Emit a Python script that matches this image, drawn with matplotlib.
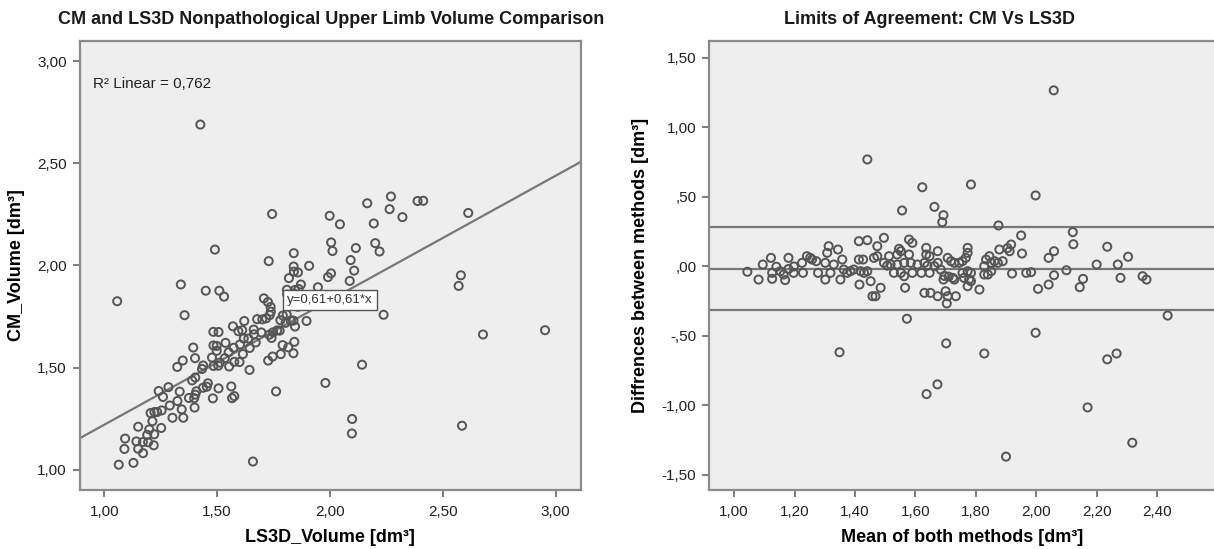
import numpy as np
import matplotlib.pyplot as plt
from matplotlib.ticker import FuncFormatter, MultipleLocator

plt.rcParams['font.family'] = ['Liberation Sans', 'DejaVu Sans']

# Bland-Altman readings: mean of both methods and difference CM - LS3D [dm3]
mean_both = np.array([
    1.044, 1.081, 1.095, 1.122, 1.126, 1.126, 1.140, 1.153, 1.164, 1.169,
    1.180, 1.180, 1.197, 1.198, 1.225, 1.228, 1.241, 1.252, 1.258, 1.272,
    1.278, 1.302, 1.302, 1.313, 1.308, 1.319, 1.330, 1.344, 1.352, 1.358,
    1.363, 1.374, 1.385, 1.396, 1.349, 1.413, 1.441, 1.413, 1.427, 1.419,
    1.430, 1.441, 1.415, 1.452, 1.458, 1.468, 1.463, 1.474, 1.474, 1.485,
    1.496, 1.496, 1.507, 1.518, 1.513, 1.529, 1.540, 1.552, 1.540, 1.552,
    1.563, 1.563, 1.566, 1.572, 1.579, 1.590, 1.579, 1.585, 1.590, 1.607,
    1.620, 1.630, 1.636, 1.647, 1.630, 1.650, 1.640, 1.647, 1.663, 1.674,
    1.684, 1.674, 1.693, 1.702, 1.704, 1.707, 1.718, 1.729, 1.745, 1.756,
    1.767, 1.773, 1.773, 1.696, 1.710, 1.724, 1.729, 1.707, 1.734, 1.700,
    1.756, 1.761, 1.773, 1.784, 1.778, 1.784, 1.773, 1.812, 1.828, 1.834,
    1.845, 1.851, 1.862, 1.873, 1.889, 1.828, 1.840, 1.851, 1.878, 1.912,
    1.917, 1.950, 1.953, 1.920, 1.967, 1.983, 2.041, 2.059, 2.006, 2.041,
    2.059, 1.998, 2.100, 2.121, 2.123, 2.155, 2.144, 2.200, 2.235, 2.270,
    2.279, 2.304, 2.352, 2.365, 2.435, 1.828, 2.235, 2.266, 2.058, 1.784,
    1.998, 1.693, 1.689, 1.875, 1.441, 1.623, 1.556, 1.663, 1.546, 1.636,
    1.674, 1.905, 1.637, 1.673, 1.900, 2.170, 2.318,
])
diff_cm_ls3d = np.array([
    -0.040, -0.096, 0.012, 0.060, -0.048, -0.091, -0.004, -0.036, -0.060, -0.100,
    0.060, -0.020, -0.048, -0.002, 0.024, -0.048, 0.072, 0.060, 0.048, 0.036,
    -0.048, 0.024, -0.096, 0.144, 0.096, -0.048, 0.012, 0.120, -0.096, 0.048,
    -0.024, -0.048, -0.036, -0.024, -0.619, 0.180, 0.187, 0.048, 0.048, -0.036,
    -0.048, -0.036, -0.132, -0.108, -0.216, -0.216, 0.060, 0.072, 0.144, -0.155,
    0.204, 0.024, 0.004, 0.012, 0.072, -0.048, 0.012, -0.048, 0.084, 0.108,
    0.024, -0.072, -0.155, -0.378, 0.192, 0.168, 0.084, 0.024, -0.048, 0.012,
    -0.048, 0.024, 0.084, 0.072, -0.192, -0.192, 0.004, -0.048, 0.000, 0.024,
    -0.024, -0.216, -0.096, -0.555, -0.268, 0.060, 0.036, 0.024, 0.024, 0.036,
    0.060, 0.096, 0.132, -0.070, -0.075, -0.084, -0.096, -0.216, -0.216, -0.180,
    -0.048, -0.084, -0.036, -0.048, -0.096, -0.108, -0.144, -0.168, 0.000, 0.048,
    0.072, 0.024, 0.036, 0.024, 0.036, -0.060, -0.060, -0.036, 0.120, 0.108,
    0.156, 0.221, 0.091, -0.053, -0.048, -0.043, 0.060, 0.108, -0.163, -0.132,
    -0.065, -0.479, -0.029, 0.245, 0.158, -0.091, -0.151, 0.012, 0.140, 0.012,
    -0.084, 0.068, -0.072, -0.096, -0.355, -0.628, -0.670, -0.628, 1.265, 0.588,
    0.509, 0.367, 0.317, 0.293, 0.768, 0.568, 0.401, 0.427, 0.125, 0.132,
    0.108, 0.130, -0.920, -0.850, -1.370, -1.016, -1.270,
])

# the scatter pairs follow from mean and difference
ls3d_volume = mean_both - diff_cm_ls3d / 2
cm_volume = mean_both + diff_cm_ls3d / 2

fit_intercept = 0.61
fit_slope = 0.61
r2_text = 'R² Linear = 0,762'
fit_text = 'y=0,61+0,61*x'

bias = -0.02
upper_loa = 0.28
lower_loa = -0.315


def spss_fmt(v, pos):
    if abs(v) < 1e-9:
        v = 0.0
    s = f'{v:.2f}'.replace('.', ',')
    if s.startswith('0,'):
        s = s[1:]
    elif s.startswith('-0,'):
        s = '-' + s[2:]
    return s


W, H = 1214, 549
fig = plt.figure(figsize=(W / 100, H / 100), dpi=100)
ax1 = fig.add_axes([79.5 / W, 59 / H, 501 / W, 449 / H])
ax2 = fig.add_axes([709 / W, 59 / H, 507 / W, 449 / H])

for ax in (ax1, ax2):
    ax.set_facecolor('#eeeeee')
    for sp in ax.spines.values():
        sp.set_color('#8a8a8a')
        sp.set_linewidth(1.6)
    ax.tick_params(direction='out', length=5, width=1.2, color='#666666',
                   labelsize=11, labelcolor='#222222', pad=4)
    ax.tick_params(axis='x', pad=6)
    ax.xaxis.set_major_formatter(FuncFormatter(spss_fmt))
    ax.yaxis.set_major_formatter(FuncFormatter(spss_fmt))

mk = dict(s=34, facecolors='none', edgecolors='#555555', linewidths=1.4, zorder=3)

# left: scatter with linear fit
ax1.scatter(ls3d_volume, cm_volume, **mk)
ax1.set_xlim(0.89, 3.11)
ax1.set_ylim(0.90, 3.10)
ax1.xaxis.set_major_locator(MultipleLocator(0.5))
ax1.yaxis.set_major_locator(MultipleLocator(0.5))
xs = np.array(ax1.get_xlim())
ax1.plot(xs, fit_intercept + fit_slope * xs, color='#777777', lw=1.6, zorder=2)
ax1.text(0.95, 2.87, r2_text, fontsize=11, color='#222222')
ax1.text(2.0, fit_intercept + fit_slope * 2.0, fit_text, fontsize=9.5,
         ha='center', va='center', color='#333333', zorder=5,
         bbox=dict(boxstyle='square,pad=0.3', fc='white', ec='#555555', lw=1))
ax1.set_xlabel('LS3D_Volume [dm³]', fontsize=13, fontweight='bold', labelpad=7)
ax1.set_ylabel('CM_Volume [dm³]', fontsize=13, fontweight='bold', labelpad=9)

# right: limits of agreement
ax2.scatter(mean_both, diff_cm_ls3d, **mk)
for yv in (upper_loa, bias, lower_loa):
    ax2.axhline(yv, color='#777777', lw=1.6, zorder=2)
ax2.set_xlim(0.917, 2.595)
ax2.set_ylim(-1.61, 1.62)
ax2.xaxis.set_major_locator(MultipleLocator(0.2))
ax2.yaxis.set_major_locator(MultipleLocator(0.5))
ax2.set_xlabel('Mean of both methods [dm³]', fontsize=13, fontweight='bold', labelpad=7)
ax2.set_ylabel('Diffrences between methods [dm³]', fontsize=13, fontweight='bold',
               labelpad=9)

fig.text(331 / W, 1 - 19 / H, 'CM and LS3D Nonpathological Upper Limb Volume Comparison',
         ha='center', va='center', fontsize=13, fontweight='bold', color='#1a1a1a')
fig.text(930 / W, 1 - 19 / H, 'Limits of Agreement: CM Vs LS3D',
         ha='center', va='center', fontsize=13, fontweight='bold', color='#1a1a1a')

fig.savefig('out.png', dpi=100)
